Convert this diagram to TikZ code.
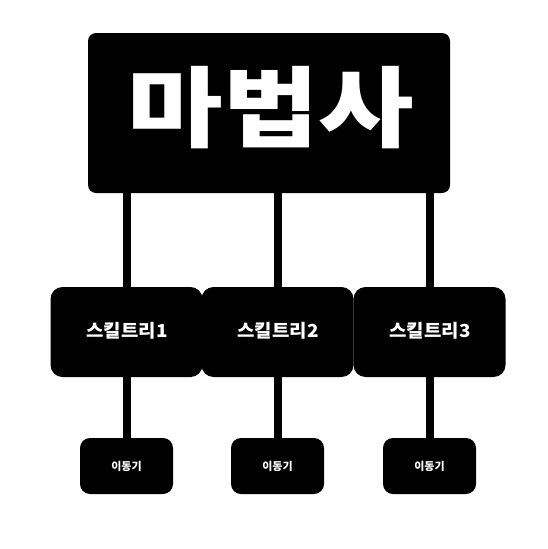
\documentclass[tikz,border=0pt]{standalone}
\usepackage{fontspec}
\usepackage{tikz}
\usetikzlibrary{shapes}
\newfontfamily\cjk{Noto Sans CJK KR}
\newcommand{\inners}{0pt}
\newcommand{\edgew}{8pt}

\begin{document}
\begin{tikzpicture}[x=1pt,y=-1pt]
    %\draw[help lines] (0,0) grid (548,549);
        \useasboundingbox (0,0) rectangle (548,549);
        \tikzset{BoxStyle/.style = {shape=rectangle, fill=black, text=white, inner sep=\inners, font=\cjk\bfseries}}
        \tikzset{TopStyle/.style = {BoxStyle, rounded corners=8pt, minimum width=362pt, minimum height=160pt}}
        \tikzset{TreeStyle/.style = {BoxStyle, rounded corners=12pt, minimum width=152pt, minimum height=90pt}}
        \tikzset{MoveStyle/.style = {BoxStyle, rounded corners=10pt, minimum width=93pt, minimum height=56pt}}
        \tikzset{EdgeStyle/.style = {draw=black, line width=\edgew}}

        % edges first, boxes drawn on top
        \coordinate (t1) at (126.5,113);
        \coordinate (t2) at (277.5,113);
        \coordinate (t3) at (429.5,113);
        \coordinate (m1) at (126.5,466);
        \coordinate (m2) at (277.5,466);
        \coordinate (m3) at (429.5,466);
        \coordinate (s1) at (126.5,332);
        \coordinate (s2) at (277.5,332);
        \coordinate (s3) at (429.5,332);
        \draw[EdgeStyle] (t1) -- (s1);
        \draw[EdgeStyle] (t2) -- (s2);
        \draw[EdgeStyle] (t3) -- (s3);
        \draw[EdgeStyle] (s1) -- (m1);
        \draw[EdgeStyle] (s2) -- (m2);
        \draw[EdgeStyle] (s3) -- (m3);

        \node[TopStyle] (mage) at (269,113) {};
        \node[text=white, xscale=1.18, font=\cjk\bfseries\fontsize{88}{88}\selectfont] (magelabel) at (271,108) {마법사};

        \node[TreeStyle] (tree1) at (s1) {};
        \node[TreeStyle] (tree2) at (s2) {};
        \node[TreeStyle] (tree3) at (s3) {};
        \node[text=white, xscale=1.05, font=\cjk\bfseries\fontsize{18}{18}\selectfont] (treelabel1) at (127,331) {스킬트리1};
        \node[text=white, xscale=1.05, font=\cjk\bfseries\fontsize{18}{18}\selectfont] (treelabel2) at (278,331) {스킬트리2};
        \node[text=white, xscale=1.05, font=\cjk\bfseries\fontsize{18}{18}\selectfont] (treelabel3) at (430,331) {스킬트리3};

        \node[MoveStyle] (move1) at (m1) {};
        \node[MoveStyle] (move2) at (m2) {};
        \node[MoveStyle] (move3) at (m3) {};
        \node[text=white, font=\cjk\bfseries\fontsize{11}{11}\selectfont] (movelabel1) at (m1) {이동기};
        \node[text=white, font=\cjk\bfseries\fontsize{11}{11}\selectfont] (movelabel2) at (m2) {이동기};
        \node[text=white, font=\cjk\bfseries\fontsize{11}{11}\selectfont] (movelabel3) at (m3) {이동기};

    \end{tikzpicture}
\end{document}
